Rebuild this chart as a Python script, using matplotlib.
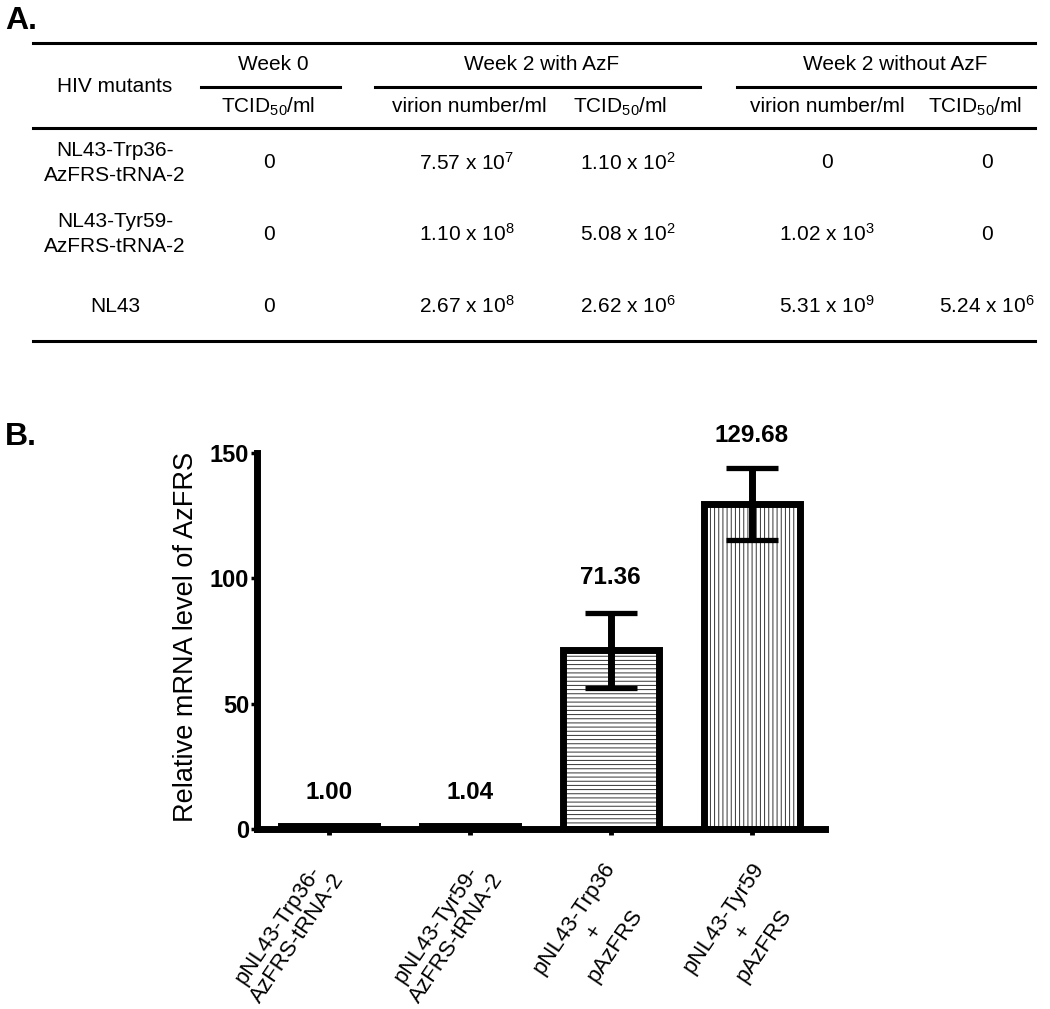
import matplotlib
matplotlib.use("Agg")
import matplotlib.pyplot as plt
from matplotlib.lines import Line2D
from matplotlib.transforms import ScaledTranslation

plt.rcParams['font.family'] = ['Liberation Sans', 'DejaVu Sans']
plt.rcParams['mathtext.fontset'] = 'custom'
plt.rcParams['mathtext.rm'] = 'Liberation Sans'
plt.rcParams['mathtext.it'] = 'Liberation Sans:italic'
plt.rcParams['mathtext.bf'] = 'Liberation Sans:bold'
plt.rcParams['hatch.linewidth'] = 0.7

# --- panel A: table data ---
week_groups = ['Week 0', 'Week 2 with AzF', 'Week 2 without AzF']
sub_headers = ['TCID$_{50}$/ml', 'virion number/ml', 'TCID$_{50}$/ml',
               'virion number/ml', 'TCID$_{50}$/ml']
mutants = ['NL43-Trp36-\nAzFRS-tRNA-2', 'NL43-Tyr59-\nAzFRS-tRNA-2', 'NL43']
week0_tcid = ['0', '0', '0']
with_virion = ['7.57e7', '1.10e8', '2.67e8']
with_tcid = ['1.10e2', '5.08e2', '2.62e6']
without_virion = ['0', '1.02e3', '5.31e9']
without_tcid = ['0', '0', '5.24e6']

# --- panel B: bar data ---
samples = ['pNL43-Trp36-\nAzFRS-tRNA-2', 'pNL43-Tyr59-\nAzFRS-tRNA-2',
           'pNL43-Trp36\n+\npAzFRS', 'pNL43-Tyr59\n+\npAzFRS']
means = [1.00, 1.04, 71.36, 129.68]
errs = [0.1, 0.1, 15.0, 14.4]
value_labels = ['1.00', '1.04', '71.36', '129.68']
hatches = ['', '', '----', '||||']


def sci(s):
    # '7.57e7' -> 7.57 x 10^7
    if 'e' not in s:
        return s
    m, e = s.split('e')
    return m + r' x 10$^{' + e + '}$'


fig = plt.figure(figsize=(10.5, 10.09), dpi=100)

# table drawn in pixel coordinates
tab = fig.add_axes([0, 0, 1, 1])
tab.set_xlim(0, 1050)
tab.set_ylim(1009, 0)
tab.axis('off')

fs = 15
for y in [43, 128, 341]:
    tab.add_line(Line2D([33, 1035], [y, y], color='black', lw=2.2))
for x0, x1 in [(201, 340), (375, 700), (737, 1035)]:
    tab.add_line(Line2D([x0, x1], [87, 87], color='black', lw=2.2))

group_x = [273, 542, 895]
for gx, g in zip(group_x, week_groups):
    tab.text(gx, 64, g, ha='center', va='center', fontsize=fs)
tab.text(115, 87, 'HIV mutants', ha='center', va='center', fontsize=fs)

sub_x = [268, 469, 620, 827, 975]
for sx, s in zip(sub_x, sub_headers):
    tab.text(sx, 107, s, ha='center', va='center', fontsize=fs)

row_y = [163, 234, 306]
col_x = [269, 467, 628, 827, 987]
cols = [week0_tcid, with_virion, with_tcid, without_virion, without_tcid]
for i, ry in enumerate(row_y):
    tab.text(115, ry, mutants[i], ha='center', va='center', fontsize=fs,
             linespacing=1.4)
    for cx, col in zip(col_x, cols):
        tab.text(cx, ry, sci(col[i]), ha='center', va='center', fontsize=fs)

fig.text(5 / 1050, 1 - 6 / 1009, 'A.', ha='left', va='top',
         fontsize=23, fontweight='bold')
fig.text(5 / 1050, 1 - 422 / 1009, 'B.', ha='left', va='top',
         fontsize=23, fontweight='bold')

# bar chart
ax = fig.add_axes([257 / 1050, 1 - 829 / 1009, 568 / 1050, 376 / 1009])
x = list(range(len(means)))
ax.bar(x, means, width=0.68, color='white', edgecolor='#333333',
       hatch=hatches, linewidth=0, zorder=2)
ax.bar(x, means, width=0.68, fill=False, edgecolor='black', linewidth=5,
       zorder=3)
ax.errorbar(x, means, yerr=errs, fmt='none', ecolor='black', elinewidth=5,
            capsize=18.5, capthick=3.8, zorder=4)

label_y = [14.4, 14.4, 100.2, 157]
for xi, ly, t in zip(x, label_y, value_labels):
    ax.text(xi, ly, t, ha='center', va='center', fontsize=17.5,
            fontweight='bold', clip_on=False)

ax.set_xlim(-0.51, 3.52)
ax.set_ylim(0, 150)
ax.set_yticks([0, 50, 100, 150])
ax.spines['top'].set_visible(False)
ax.spines['right'].set_visible(False)
ax.spines['left'].set_linewidth(5)
ax.spines['bottom'].set_linewidth(5)
ax.tick_params(axis='y', length=4.5, width=2.5, pad=1, labelsize=17)
ax.tick_params(axis='x', length=4, width=3.5, pad=70, labelsize=16)
for lab in ax.get_yticklabels():
    lab.set_fontweight('bold')

ax.set_xticks(x)
ax.set_xticklabels(samples, rotation=56, ha='right', va='center',
                   multialignment='center')
# nudge each rotated label to the right (pixels)
label_dx = [20, 38, 49, 57]
for lab, dx in zip(ax.get_xticklabels(), label_dx):
    lab.set_transform(lab.get_transform()
                      + ScaledTranslation(dx / 100, 0, fig.dpi_scale_trans))

ax.set_ylabel('Relative mRNA level of AzFRS', fontsize=19.5, va='center')
ax.yaxis.set_label_coords(-0.125, (829 - 637) / 376)

fig.savefig('out.png', dpi=100)
